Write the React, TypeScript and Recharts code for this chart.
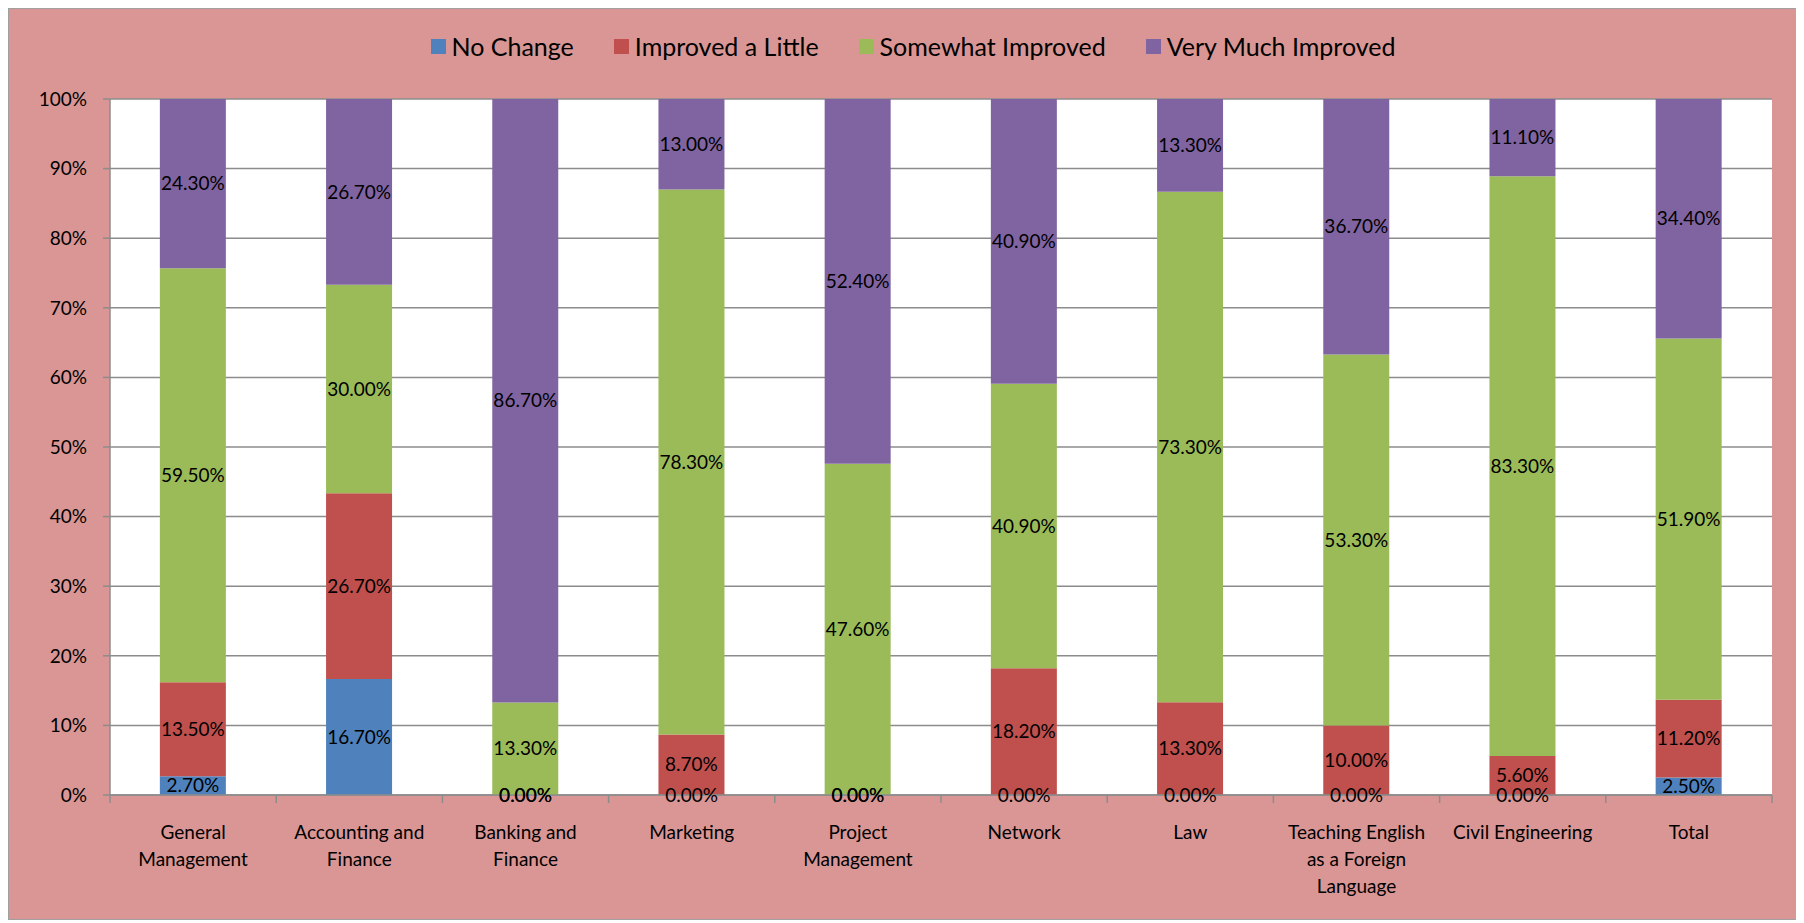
import { BarChart, Bar, XAxis, YAxis, CartesianGrid, Legend, LabelList, ReferenceDot } from 'recharts'

// Survey results per programme, percent of respondents
const categories = [
  'General Management',
  'Accounting and Finance',
  'Banking and Finance',
  'Marketing',
  'Project Management',
  'Network',
  'Law',
  'Teaching English as a Foreign Language',
  'Civil Engineering',
  'Total',
]
const tickLines = [
  ['General', 'Management'],
  ['Accounting and', 'Finance'],
  ['Banking and', 'Finance'],
  ['Marketing'],
  ['Project', 'Management'],
  ['Network'],
  ['Law'],
  ['Teaching English', 'as a Foreign', 'Language'],
  ['Civil Engineering'],
  ['Total'],
]
const noChange = [2.7, 16.7, 0, 0, 0, 0, 0, 0, 0, 2.5]
const improvedLittle = [13.5, 26.7, 0, 8.7, 0, 18.2, 13.3, 10.0, 5.6, 11.2]
const somewhatImproved = [59.5, 30.0, 13.3, 78.3, 47.6, 40.9, 73.3, 53.3, 83.3, 51.9]
const veryMuchImproved = [24.3, 26.7, 86.7, 13.0, 52.4, 40.9, 13.3, 36.7, 11.1, 34.4]
const yTicks = [0, 10, 20, 30, 40, 50, 60, 70, 80, 90, 100]

const series = [
  { key: 'noChange', name: 'No Change', color: '#4F81BD', values: noChange },
  { key: 'improvedLittle', name: 'Improved a Little', color: '#C0504D', values: improvedLittle },
  { key: 'somewhatImproved', name: 'Somewhat Improved', color: '#9BBB59', values: somewhatImproved },
  { key: 'veryMuchImproved', name: 'Very Much Improved', color: '#8064A2', values: veryMuchImproved },
]

const data = categories.map((name, i) => ({
  name,
  noChange: noChange[i],
  improvedLittle: improvedLittle[i],
  somewhatImproved: somewhatImproved[i],
  veryMuchImproved: veryMuchImproved[i],
}))

// recharts drops labels of zero-height segments, so put those at the stack base
const zeroLabels: { name: string; base: number; key: string }[] = []
categories.forEach((name, i) => {
  const total = series.reduce((s, ser) => s + ser.values[i], 0)
  let acc = 0
  series.forEach((ser) => {
    if (ser.values[i] === 0) zeroLabels.push({ name, base: acc / total, key: `${ser.key}-${i}` })
    acc += ser.values[i]
  })
})

const W = 1790
const H = 910
const margin = { top: 90, right: 27, bottom: 24, left: 0 }
const yAxisWidth = 101
const band = (W - margin.left - margin.right - yAxisWidth) / categories.length
const FONT = 'Lato, "Open Sans", sans-serif'
const GRID = '#8c8c8c'
const labelStyle = { fontSize: 19, fontFamily: FONT, fill: '#000' }

const XTick = (props: any) => {
  const { x, y, payload } = props
  const idx = categories.indexOf(payload.value)
  const lines = tickLines[idx] || [payload.value]
  return (
    <g>
      <line x1={x - band / 2} y1={y} x2={x - band / 2} y2={y + 8} stroke={GRID} strokeWidth={1.5} />
      {idx === categories.length - 1 && (
        <line x1={x + band / 2} y1={y} x2={x + band / 2} y2={y + 8} stroke={GRID} strokeWidth={1.5} />
      )}
      {lines.map((t, i) => (
        <text key={i} x={x} y={y + 37 + i * 27} dy="0.35em" textAnchor="middle" fontSize={19} fontFamily={FONT} fill="#000">
          {t}
        </text>
      ))}
    </g>
  )
}

const LegendContent = (props: any) => {
  const items = [...(props.payload || [])].sort(
    (a: any, b: any) => series.findIndex((s) => s.name === a.value) - series.findIndex((s) => s.name === b.value),
  )
  return (
    <div style={{ display: 'flex', justifyContent: 'center', gap: 40, paddingLeft: 18, fontFamily: FONT, fontSize: 25, lineHeight: '30px' }}>
      {items.map((it: any) => (
        <div key={it.value} style={{ display: 'flex', alignItems: 'center' }}>
          <span style={{ width: 15, height: 15, background: it.color, display: 'inline-block', marginRight: 6 }} />
          <span style={{ color: '#000' }}>{it.value}</span>
        </div>
      ))}
    </div>
  )
}

export default function App() {
  return (
    <div style={{ width: W + 2, height: H + 2, boxSizing: 'border-box', border: '1px solid #a0a0a0', background: '#D99694' }}>
      <BarChart width={W} height={H} data={data} margin={margin} stackOffset="expand" barCategoryGap="30%">
        <CartesianGrid vertical={false} stroke={GRID} strokeWidth={1.5} fill="#fff" />
        <XAxis
          dataKey="name"
          interval={0}
          height={100}
          tickLine={false}
          tickSize={0}
          tickMargin={0}
          stroke={GRID}
          strokeWidth={1.5}
          tick={<XTick />}
        />
        <YAxis
          width={yAxisWidth}
          domain={[0, 1]}
          ticks={yTicks.map((t) => t / 100)}
          tickFormatter={(v: number) => `${Math.round(v * 100)}%`}
          tickSize={7}
          tickMargin={16}
          stroke={GRID}
          strokeWidth={1.5}
          tick={labelStyle}
        />
        <Legend verticalAlign="middle" layout="horizontal" wrapperStyle={{ top: 22, left: 0, width: W }} content={<LegendContent />} />
        {series.map((s) => (
          <Bar key={s.key} dataKey={s.key} name={s.name} stackId="a" fill={s.color} isAnimationActive={false}>
            <LabelList
              dataKey={s.key}
              position="center"
              formatter={(v: any) => `${Number(v).toFixed(2)}%`}
              style={labelStyle}
            />
          </Bar>
        ))}
        {zeroLabels.map((z) => (
          <ReferenceDot
            key={z.key}
            x={z.name}
            y={z.base}
            r={0}
            fill="none"
            stroke="none"
            label={{ value: '0.00%', position: 'center', style: labelStyle }}
          />
        ))}
      </BarChart>
    </div>
  )
}
